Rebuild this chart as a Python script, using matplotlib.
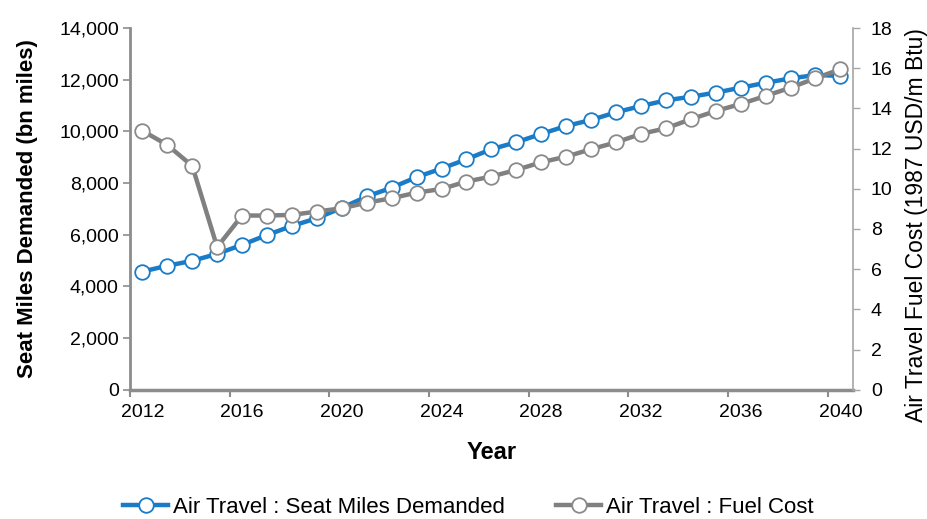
import matplotlib
matplotlib.use("Agg")
import matplotlib.pyplot as plt
from matplotlib.ticker import FuncFormatter, FixedLocator
from matplotlib.lines import Line2D

plt.rcParams['font.family'] = ['Liberation Sans', 'DejaVu Sans']

years = list(range(2012, 2041))
seat_miles = [4575, 4800, 4990, 5260, 5610, 5990, 6340, 6640, 7040, 7480,
              7820, 8230, 8560, 8920, 9310, 9580, 9900, 10210, 10440, 10740,
              10980, 11200, 11340, 11500, 11690, 11880, 12050, 12180, 12150]
fuel_cost = [12.89, 12.18, 11.14, 7.10, 8.67, 8.67, 8.70, 8.87, 9.03, 9.31,
             9.53, 9.81, 9.99, 10.36, 10.61, 10.94, 11.32, 11.60, 11.97, 12.31,
             12.73, 13.01, 13.46, 13.87, 14.22, 14.62, 15.03, 15.50, 15.95]
year_labels = [2012, 2016, 2020, 2024, 2028, 2032, 2036, 2040]

blue = '#1a7cc6'
grey = '#808080'
axis_grey = '#8c8c8c'

fig = plt.figure(figsize=(9.28, 5.19), dpi=100)
ax = fig.add_axes([0.140, 0.249, 0.779, 0.697])
ax2 = ax.twinx()

ax.plot(years, seat_miles, color=blue, lw=3.2, marker='o', ms=10.5,
        mfc='white', mec=blue, mew=1.3, zorder=3)
ax2.plot(years, fuel_cost, color=grey, lw=3.2, marker='o', ms=10.5,
         mfc='white', mec='#8a8a8a', mew=1.3, zorder=3)

ax.set_xlim(years[0] - 0.5, years[-1] + 0.5)
ax.set_ylim(0, 14000)
ax2.set_ylim(0, 18)
ax.set_yticks(range(0, 14001, 2000))
ax2.set_yticks(range(0, 19, 2))
ax.yaxis.set_major_formatter(FuncFormatter(lambda v, p: f"{int(v):,}"))

ax.set_xticks(year_labels)
ax.set_xticklabels([str(y) for y in year_labels])
ax.xaxis.set_minor_locator(FixedLocator([y - 0.5 for y in year_labels]))
ax.tick_params(axis='x', which='major', length=0, labelsize=14, pad=10)
ax.tick_params(axis='x', which='minor', length=5, width=1.5, color=axis_grey)
ax.tick_params(axis='y', length=5, width=1.2, color=axis_grey, labelsize=14, pad=3)
ax2.tick_params(axis='y', length=5, width=1.0, color='#a6a6a6', labelsize=14, pad=8)

for a in (ax, ax2):
    a.spines['top'].set_visible(False)
ax.spines['left'].set_color(axis_grey)
ax.spines['left'].set_linewidth(2)
ax.spines['bottom'].set_color(axis_grey)
ax.spines['bottom'].set_linewidth(2.5)
ax.spines['right'].set_visible(False)
ax2.spines['left'].set_visible(False)
ax2.spines['bottom'].set_visible(False)
ax2.spines['right'].set_color('#a6a6a6')
ax2.spines['right'].set_linewidth(1.2)

ax.set_xlabel('Year', fontsize=17, fontweight='bold', labelpad=15)
ax.set_ylabel('Seat Miles Demanded (bn miles)', fontsize=16, fontweight='bold', labelpad=15)
ax2.set_ylabel('Air Travel Fuel Cost (1987 USD/m Btu)', fontsize=16.5)
ax2.yaxis.set_label_coords(1.072, 0.455)

handles = [
    Line2D([], [], color=blue, lw=3.2, marker='o', ms=10.5, mfc='white', mec=blue, mew=1.3),
    Line2D([], [], color=grey, lw=3.2, marker='o', ms=10.5, mfc='white', mec='#8a8a8a', mew=1.3),
]
fig.legend(handles, ['Air Travel : Seat Miles Demanded', 'Air Travel : Fuel Cost'],
           loc='center', bbox_to_anchor=(0.505, 0.022), ncol=2, frameon=False,
           fontsize=16, handlelength=2.0, handletextpad=0.25, columnspacing=2.3)

fig.savefig('out.png', dpi=100)
